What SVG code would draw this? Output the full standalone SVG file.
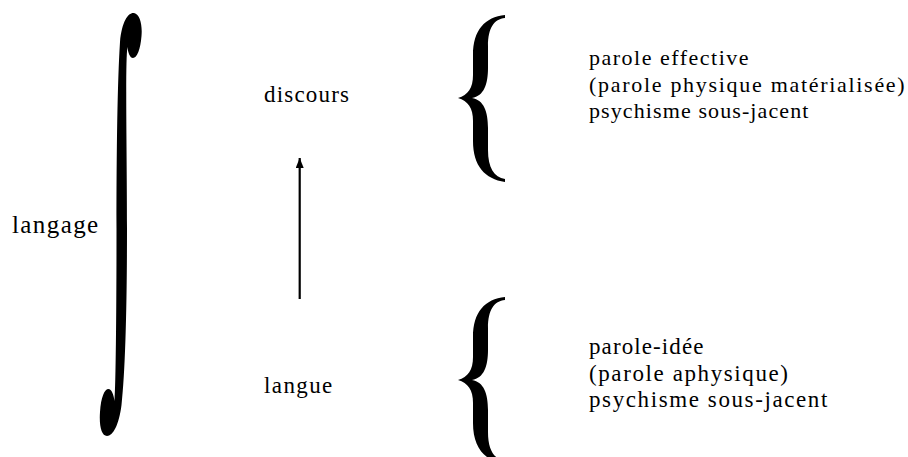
<svg xmlns="http://www.w3.org/2000/svg" width="908" height="457" viewBox="0 0 908 457">
<style>
  text { font-family: "Liberation Serif", "Times New Roman", serif; fill: #000; }
  .big { font-size: 25px; letter-spacing: 1.4px; }
  .lbl { font-size: 23px; }
  .desc { font-size: 22px; }
  .desc2 { font-size: 23px; }
  .glyph { fill: #000; stroke: none; }
  .conn { stroke: #000; stroke-width: 2.2; fill: none; }
</style>
<defs>
  <marker id="ah" markerWidth="10" markerHeight="8" refX="10" refY="4" orient="auto" markerUnits="userSpaceOnUse" viewBox="0 0 10 8">
    <path d="M0 0 L10 4 L0 8 Z" fill="#000"/>
  </marker>
</defs>
<rect width="908" height="457" fill="#fff"/>

<g id="langage">
  <text class="big" x="12" y="233">langage</text>
  <path class="glyph" d="M116.5 228 C116.5 150 117.5 80 120 42 C122 20 129 12 134 13 C140 14 142.5 25 141.5 36 C140.5 49 137 58 133 58 C130 58 128 53 127.5 47 C125 62 127 150 127 228 C127 300 125.5 370 121.5 405 C119 425 113 436 107 436 C101.5 436 99 426 100 412 C101 397 104.5 389 108.5 389 C111.5 389 113.5 394 114.5 401 C116 380 116.5 300 116.5 228 Z"/>
</g>

<g id="discours">
  <text class="lbl" x="264" y="102" letter-spacing="1.2">discours</text>
</g>

<g id="langue">
  <text class="lbl" x="264" y="393" letter-spacing="1.4">langue</text>
</g>

<g id="connectors">
  <line class="conn" x1="299.7" y1="299" x2="299.7" y2="158" marker-end="url(#ah)"/>
</g>

<g id="brace-top">
  <path class="glyph" d="M505 15 C485 17 473 30 473 55 L473 75 C473 88 468 95 458 98 C468 101 473 108 473 121 L473 141 C473 166 485 179 505 182 L505 179 C494 177 488 168 488 150 L488 128 C488 112 484 100 472 98 C484 96 488 84 488 68 L488 46 C488 28 494 19 505 18 Z"/>
</g>

<g id="brace-bottom">
  <path class="glyph" transform="translate(0,282)" d="M505 15 C485 17 473 30 473 55 L473 75 C473 88 468 95 458 98 C468 101 473 108 473 121 L473 141 C473 166 485 179 505 182 L505 179 C494 177 488 168 488 150 L488 128 C488 112 484 100 472 98 C484 96 488 84 488 68 L488 46 C488 28 494 19 505 18 Z"/>
</g>

<g id="desc-top">
  <text class="desc" x="589" y="65" letter-spacing="1.5">parole effective</text>
  <text class="desc" x="589" y="92" letter-spacing="1.7">(parole physique matérialisée)</text>
  <text class="desc" x="589" y="117.5" letter-spacing="1.1">psychisme sous-jacent</text>
</g>

<g id="desc-bottom">
  <text class="desc2" x="589" y="354" letter-spacing="1.1">parole-idée</text>
  <text class="desc2" x="589" y="381" letter-spacing="1.6">(parole aphysique)</text>
  <text class="desc2" x="589" y="407" letter-spacing="1.6">psychisme sous-jacent</text>
</g>
</svg>
